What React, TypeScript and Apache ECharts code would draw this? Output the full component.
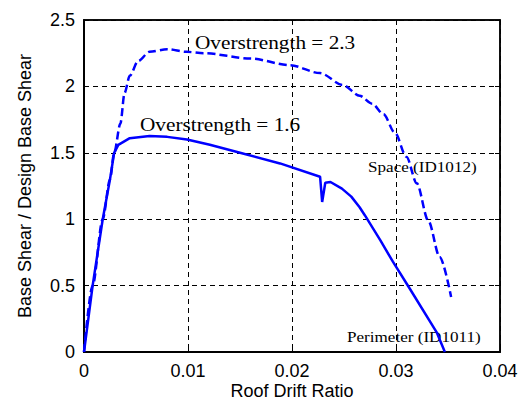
import React, { useEffect, useRef } from "react";
import * as echarts from "echarts";

const xTicks = [0, 0.01, 0.02, 0.03, 0.04];
const yTicks = [0, 0.5, 1, 1.5, 2, 2.5];

// Perimeter (ID1011) — solid
const perimeterX = [0, 0.00083, 0.0018, 0.0025, 0.0029, 0.0033, 0.0044, 0.0063, 0.008, 0.0099, 0.0121, 0.015, 0.01885, 0.0227, 0.0229, 0.0232, 0.0237, 0.0248, 0.0257, 0.0265, 0.027, 0.0285, 0.0297, 0.0313, 0.0339, 0.0347];
const perimeterY = [0, 0.5, 1.0, 1.3, 1.5, 1.56, 1.61, 1.627, 1.62, 1.6, 1.56, 1.5, 1.42, 1.32, 1.13, 1.275, 1.28, 1.23, 1.17, 1.09, 1.03, 0.84, 0.68, 0.48, 0.15, 0];

// Space (ID1012) — dashed
const spaceX = [0, 0.00083, 0.0018, 0.0025, 0.0029, 0.0035, 0.0039, 0.0044, 0.0052, 0.0063, 0.008, 0.0099, 0.0115, 0.016, 0.0198, 0.0227, 0.0249, 0.0265, 0.0277, 0.0288, 0.0299, 0.031, 0.032, 0.0331, 0.0342, 0.0353];
const spaceY = [0, 0.5, 1.0, 1.3, 1.5, 1.72, 1.95, 2.08, 2.19, 2.26, 2.28, 2.26, 2.25, 2.21, 2.16, 2.1, 2.01, 1.93, 1.87, 1.79, 1.65, 1.47, 1.27, 0.99, 0.716, 0.415];

const labels = ["Overstrength = 2.3", "Overstrength = 1.6", "Space (ID1012)", "Perimeter (ID1011)"];

export default function App() {
  const ref = useRef<HTMLDivElement>(null);
  useEffect(() => {
    if (!ref.current) return;
    const chart = echarts.init(ref.current, null, { renderer: "svg" });
    const sans = "'Liberation Sans', Arial, sans-serif";
    const serif = "'Liberation Serif', 'Times New Roman', serif";
    const axisText = { color: "#000", fontSize: 18, fontFamily: sans };
    const split = { show: true, lineStyle: { color: "#000", type: [5, 4], width: 1 } };
    chart.setOption({
      animation: false,
      backgroundColor: "#fff",
      grid: { left: 84, right: 28, top: 20, bottom: 50, outerBoundsMode: "none", containLabel: false, show: true, borderColor: "#000", borderWidth: 1.5, backgroundColor: "transparent" },
      xAxis: [
        {
          type: "value",
          min: xTicks[0],
          max: xTicks[xTicks.length - 1],
          interval: 0.01,
          name: "Roof Drift Ratio",
          nameLocation: "middle",
          nameGap: 30,
          nameMoveOverlap: false,
          nameTextStyle: axisText,
          axisLine: { show: true, onZero: false, lineStyle: { color: "#000", width: 2 } },
          axisTick: { show: true, inside: true, length: 5, lineStyle: { color: "#000" } },
          axisLabel: { ...axisText, margin: 10 },
          splitLine: split,
        },
        {
          type: "value",
          position: "top",
          min: xTicks[0],
          max: xTicks[xTicks.length - 1],
          interval: 0.01,
          axisLine: { show: true, onZero: false, lineStyle: { color: "#000", width: 1.5 } },
          axisTick: { show: true, inside: true, length: 5, lineStyle: { color: "#000" } },
          axisLabel: { show: false },
          splitLine: { show: false },
        },
      ],
      yAxis: [
        {
          type: "value",
          min: yTicks[0],
          max: yTicks[yTicks.length - 1],
          interval: 0.5,
          name: "Base Shear / Design Base Shear",
          nameLocation: "middle",
          nameGap: 50,
          nameTextStyle: axisText,
          axisLine: { show: true, onZero: false, lineStyle: { color: "#000", width: 2 } },
          axisTick: { show: true, inside: true, length: 5, lineStyle: { color: "#000" } },
          axisLabel: { ...axisText, margin: 9 },
          splitLine: split,
        },
        {
          type: "value",
          position: "right",
          min: yTicks[0],
          max: yTicks[yTicks.length - 1],
          interval: 0.5,
          axisLine: { show: true, onZero: false, lineStyle: { color: "#000", width: 1.5 } },
          axisTick: { show: true, inside: true, length: 5, lineStyle: { color: "#000" } },
          axisLabel: { show: false },
          splitLine: { show: false },
        },
      ],
      series: [
        {
          name: "Perimeter (ID1011)",
          type: "line",
          data: perimeterX.map((x, i) => [x, perimeterY[i]]),
          showSymbol: false,
          lineStyle: { color: "#0000ff", width: 2.5 },
          z: 3,
        },
        {
          name: "Space (ID1012)",
          type: "line",
          data: spaceX.map((x, i) => [x, spaceY[i]]),
          showSymbol: false,
          smooth: 0.3,
          smoothMonotone: "x",
          lineStyle: { color: "#0000ff", width: 2.5, type: [8, 4] },
          z: 3,
        },
      ],
      graphic: [
        { type: "text", x: 195, y: 42, scaleX: 1.12, style: { text: labels[0], fontSize: 19, fontFamily: serif, fill: "#000", textAlign: "left", textVerticalAlign: "middle" } },
        { type: "text", x: 140, y: 124, scaleX: 1.12, style: { text: labels[1], fontSize: 19, fontFamily: serif, fill: "#000", textAlign: "left", textVerticalAlign: "middle" } },
        { type: "text", x: 368, y: 167, scaleX: 1.14, style: { text: labels[2], fontSize: 15, fontFamily: serif, fill: "#000", textAlign: "left", textVerticalAlign: "middle" } },
        { type: "text", x: 347, y: 337, scaleX: 1.14, style: { text: labels[3], fontSize: 15, fontFamily: serif, fill: "#000", textAlign: "left", textVerticalAlign: "middle" } },
      ],
    });
    return () => chart.dispose();
  }, []);
  return <div ref={ref} style={{ width: 528, height: 402, position: "absolute", left: 0, top: 0 }} />;
}
